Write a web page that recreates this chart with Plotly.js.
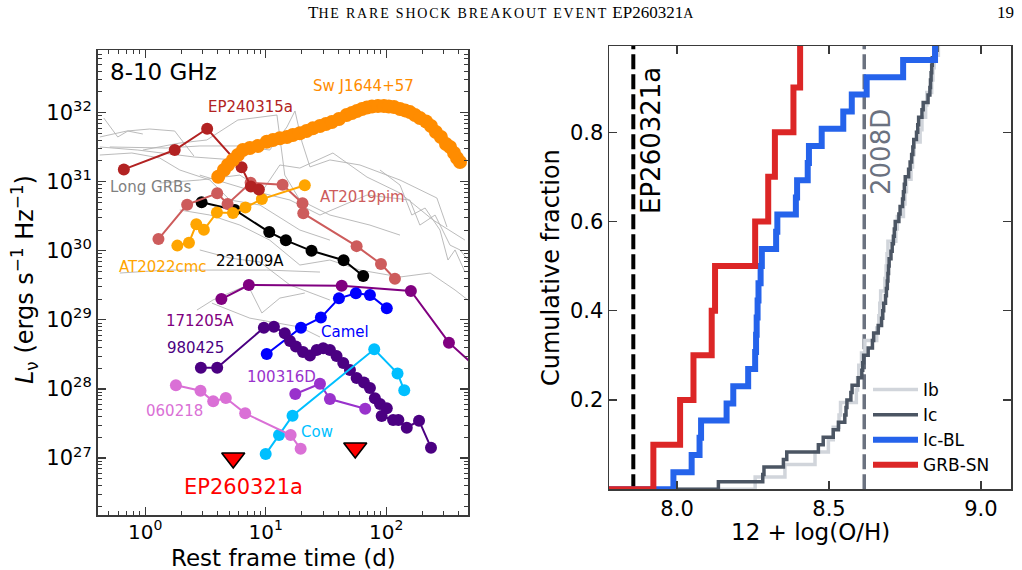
<!DOCTYPE html>
<html>
<head>
<meta charset="utf-8">
<script src="https://cdn.plot.ly/plotly-3.0.1.min.js"></script>
<style>
  html, body { margin: 0; padding: 0; background: #ffffff; }
  #chart { width: 1022px; height: 570px; }
</style>
</head>
<body>
<div id="chart"></div>
<script>
// ---------- Radio light curves at 8-10 GHz (rest-frame days, erg/s/Hz) ----------
const swj1644_t = [4.04, 4.50, 4.86, 5.34, 5.88, 6.47, 7.39, 8.61, 10.2, 11.5, 13.1, 15.0, 16.8, 19.2, 21.8, 24.6, 28.2, 31.6, 35.4, 40.5, 46.9, 51.9, 57.1, 62.9, 69.2, 76.1, 85.3, 95.7, 105, 116, 130, 143, 157, 173, 190, 214, 235, 258, 284, 313, 338, 365, 386, 409];
const swj1644_L = [1.18e31, 1.48e31, 1.75e31, 2.07e31, 2.44e31, 2.88e31, 3.08e31, 3.30e31, 3.80e31, 4.03e31, 4.26e31, 4.45e31, 4.75e31, 5.03e31, 5.43e31, 5.94e31, 6.42e31, 6.86e31, 7.33e31, 8.11e31, 9.26e31, 9.90e31, 1.06e32, 1.13e32, 1.19e32, 1.23e32, 1.25e32, 1.25e32, 1.23e32, 1.21e32, 1.13e32, 1.08e32, 1.02e32, 9.26e31, 8.38e31, 7.46e31, 6.42e31, 5.26e31, 4.45e31, 3.52e31, 3.19e31, 2.61e31, 2.21e31, 1.93e31];

const ep240315a_t = [0.666, 1.76, 3.27, 6.31, 7.54, 8.78];
const ep240315a_L = [1.51e31, 2.88e31, 5.86e31, 1.62e31, 8.53e30, 7.73e30];

const at2019pim_t = [1.29, 2.23, 3.96, 4.83, 7.50, 13.8, 20.2, 20.5, 56.8, 90.4, 118];
const at2019pim_L = [1.48e30, 4.66e30, 6.81e30, 4.77e30, 9.68e30, 9.06e30, 4.88e30, 3.49e30, 1.17e30, 6.44e29, 3.94e29];

const at2022cmc_t = [1.85, 2.31, 2.66, 3.07, 3.94, 5.35, 6.79, 9.30, 21.1];
const at2022cmc_L = [1.19e30, 1.31e30, 2.42e30, 2.02e30, 3.59e30, 3.53e30, 4.24e30, 5.62e30, 8.89e30];

const grb221009a_t = [2.94, 5.55, 10.7, 14.7, 24.0, 44.3, 64.4];
const grb221009a_L = [5.05e30, 3.90e30, 1.87e30, 1.42e30, 1.00e30, 7.30e29, 4.32e29];

const grb171205a_t = [4.29, 7.25, 42.7, 160, 331, 878];
const grb171205a_L = [2.00e29, 3.20e29, 3.13e29, 2.62e29, 4.68e28, 1.00e28];

const camel_t = [10.2, 19.6, 28.7, 40.5, 56.0, 73.2, 101];
const camel_L = [3.21e28, 7.71e28, 1.08e29, 2.05e29, 2.43e29, 2.29e29, 1.47e29];

const grb980425_t = [2.90, 3.96, 9.66, 11.7, 14.4, 15.9, 17.8, 20.4, 23.3, 26.5, 30.0, 34.1, 38.7, 44.0, 50.0, 56.8, 65.3, 73.2, 80.5, 88.7, 101, 91.6, 114, 126, 148, 187, 235];
const grb980425_L = [2.03e28, 2.03e28, 7.71e28, 7.96e28, 6.40e28, 4.95e28, 4.12e28, 3.43e28, 3.05e28, 3.66e28, 3.88e28, 3.66e28, 3.00e28, 2.37e28, 1.88e28, 1.44e28, 1.24e28, 1.03e28, 7.32e27, 6.05e27, 5.25e27, 4.06e27, 3.55e27, 3.55e27, 2.75e27, 3.47e27, 1.41e27];

const grb060218_t = [1.80, 2.88, 3.67, 4.67, 6.76, 16.1, 19.5];
const grb060218_L = [1.13e28, 9.43e27, 6.62e27, 7.39e27, 4.44e27, 2.15e27, 1.36e27];

const grb100316d_t = [17.6, 28.2, 34.1, 66.9];
const grb100316d_L = [8.45e27, 1.19e28, 7.15e27, 5.17e27];

const cow_t = [10.0, 12.9, 16.7, 79.5, 124, 141];
const cow_L = [1.14e27, 2.15e27, 4.10e27, 3.75e28, 1.68e28, 9.55e27];

// EP260321a upper limits
const ep260321a_t = [5.38, 55.3];
const ep260321a_L = [1.00e27, 1.40e27];

// Long GRB sample (thin grey tracks)
const longGrbT = [
  [0.454, 0.593, 0.719, 0.957],
  [0.421, 0.705, 1.09, 1.76, 2.54],
  [0.421, 0.870, 2.58, 5.55],
  [0.421, 0.776, 1.32, 1.94, 3.44, 5.05, 8.95, 19.2, 34.1],
  [0.957, 1.94, 3.25, 5.88, 12.4, 14.4, 19.2, 34.1, 73.2, 130],
  [0.509, 1.48, 2.84, 6.11, 10.8, 15.0, 17.5, 20.0, 23.3, 34.1, 60.5, 130, 263, 319],
  [1.32, 2.84, 6.11, 9.48, 13.1, 19.2, 36.1, 69.2, 130, 244, 450],
  [2.84, 7.39, 15.9, 28.2, 69.2, 157, 190, 254, 338, 409, 476],
  [1.94, 3.44, 6.11, 10.8, 19.2, 34.1, 60.5, 130, 231, 372, 476],
  [0.617, 1.51, 3.25, 10.2, 28.2],
  [2.84, 5.05, 8.95, 15.9, 34.1],
  [2.69, 3.65, 7.11, 9.30, 13.1, 21.1],
  [3.58, 7.39, 19.2, 28.2],
  [88.7, 130, 163, 210, 279, 325, 372, 450]
];
const longGrbL = [
  [8.38e31, 4.45e31, 5.43e31, 4.92e31],
  [4.45e31, 5.43e31, 5.81e31, 5.43e31, 2.36e31],
  [3.19e31, 2.88e31, 2.28e31, 2.07e31],
  [2.44e31, 2.61e31, 2.21e31, 1.48e31, 1.06e31, 5.44e30, 4.61e30, 2.00e30, 1.43e30],
  [2.88e31, 3.64e31, 4.03e31, 7.84e31, 9.26e31, 1.25e31, 5.44e30, 3.30e30, 2.36e30, 1.69e30],
  [3.19e31, 3.08e31, 3.30e31, 3.30e31, 2.88e31, 6.21e31, 1.06e32, 3.77e31, 1.64e31, 2.07e31, 1.75e31, 1.06e31, 5.82e30, 2.21e30],
  [9.59e30, 1.06e31, 1.25e31, 7.57e30, 1.75e31, 1.58e31, 2.61e31, 1.17e31, 6.87e30, 2.80e30, 1.43e30],
  [1.25e31, 7.57e30, 5.44e30, 3.30e30, 6.42e30, 5.44e30, 2.36e30, 3.30e30, 1.21e30, 1.03e30, 7.36e29],
  [3.90e30, 3.30e30, 2.36e30, 1.43e30, 6.23e29, 7.36e29, 5.27e29, 4.18e29, 4.77e29, 2.71e29, 1.94e29],
  [4.77e29, 5.27e29, 5.27e29, 5.27e29, 4.93e29],
  [1.03e30, 7.87e29, 6.88e29, 3.20e29, 1.94e29],
  [1.39e29, 1.94e29, 3.20e29, 1.26e29, 2.07e29, 2.45e29],
  [1.75e29, 1.06e29, 7.88e28, 5.65e28],
  [1.48e31, 8.97e30, 3.30e30, 4.17e30, 2.00e30, 7.36e29, 1.03e30, 4.93e29]
];

// ---------- Host metallicities, 12 + log(O/H) ----------
const ohIb = [8.257, 8.355, 8.454, 8.498, 8.514, 8.533, 8.538, 8.590, 8.594, 8.598, 8.607, 8.618, 8.657, 8.664, 8.667, 8.670, 8.684, 8.688, 8.691, 8.694, 8.720, 8.725, 8.745, 8.750, 8.755, 8.770, 8.775, 8.780, 8.800, 8.806, 8.818, 8.822, 8.838, 8.842, 8.846, 8.860];
const ohIc = [8.136, 8.282, 8.286, 8.350, 8.361, 8.465, 8.481, 8.514, 8.531, 8.552, 8.556, 8.559, 8.572, 8.576, 8.596, 8.608, 8.611, 8.614, 8.629, 8.643, 8.647, 8.662, 8.673, 8.677, 8.680, 8.686, 8.689, 8.692, 8.694, 8.696, 8.698, 8.704, 8.708, 8.712, 8.715, 8.718, 8.730, 8.734, 8.742, 8.745, 8.748, 8.751, 8.762, 8.767, 8.772, 8.776, 8.779, 8.788, 8.792, 8.795, 8.806, 8.810, 8.826, 8.832, 8.834, 8.836, 8.838, 8.840, 8.850, 8.856];
const ohIcBL = [7.988, 8.048, 8.074, 8.079, 8.163, 8.185, 8.234, 8.257, 8.260, 8.262, 8.265, 8.268, 8.275, 8.279, 8.326, 8.330, 8.391, 8.395, 8.430, 8.434, 8.476, 8.547, 8.575, 8.624, 8.744, 8.849];
const ohGRBSN = [7.922, 8.010, 8.054, 8.114, 8.125, 8.257, 8.300, 8.322, 8.383, 8.405];
const ohEP260321a = 7.856;
const oh2008D = 8.616;

// ---------- helpers ----------
const W = 1022, H = 570;
const px = v => v / W;          // pixel -> paper x
const py = v => 1 - v / H;      // pixel -> paper y
const FONT = 'DejaVu Sans, Verdana, sans-serif';
const AXC = '#3a3a3a';

function ecdf(vals) {
  const s = vals.slice().sort((a, b) => a - b);
  const n = s.length;
  const x = [7.5], y = [0];
  s.forEach((v, i) => { x.push(v); y.push((i + 1) / n); });
  x.push(9.4); y.push(1);
  return { x, y };
}

function logMinor(lo, hi) {
  const out = [];
  for (let e = lo; e <= hi; e++) {
    for (let m = 2; m <= 9; m++) out.push(m * Math.pow(10, e));
  }
  return out;
}

const traces = [];

// thin grey long-GRB tracks
longGrbT.forEach((t, i) => {
  traces.push({
    x: t, y: longGrbL[i], xaxis: 'x', yaxis: 'y', type: 'scatter', mode: 'lines',
    line: { color: '#b3b3b3', width: 0.9 }, showlegend: false, hoverinfo: 'skip'
  });
});

function lc(t, L, color, size) {
  traces.push({
    x: t, y: L, xaxis: 'x', yaxis: 'y', type: 'scatter', mode: 'lines+markers',
    line: { color: color, width: 2 },
    marker: { color: color, size: size || 12, line: { width: 0 } },
    showlegend: false
  });
}

lc(grb171205a_t, grb171205a_L, '#800080');
lc(camel_t, camel_L, '#0000ff');
lc(grb980425_t, grb980425_L, '#4b0082');
lc(grb100316d_t, grb100316d_L, '#9932cc');
lc(cow_t, cow_L, '#00bfff');
lc(grb060218_t, grb060218_L, '#da70d6');
lc(grb221009a_t, grb221009a_L, '#000000');
lc(at2019pim_t, at2019pim_L, '#cd5c5c');
lc(at2022cmc_t, at2022cmc_L, '#ffa500');
lc(ep240315a_t, ep240315a_L, '#b22222');
lc(swj1644_t, swj1644_L, '#ff8c00', 14);

traces.push({
  x: ep260321a_t, y: ep260321a_L, xaxis: 'x', yaxis: 'y', type: 'scatter', mode: 'markers',
  marker: { symbol: 'triangle-down', size: 20, color: '#ff0000', line: { color: '#000000', width: 1.6 } },
  showlegend: false
});

// metallicity panel: reference lines
traces.push({
  x: [ohEP260321a, ohEP260321a], y: [0, 1.2], xaxis: 'x2', yaxis: 'y2', type: 'scatter', mode: 'lines',
  line: { color: '#000000', width: 4, dash: '15px,5px' }, showlegend: false, hoverinfo: 'skip'
});
traces.push({
  x: [oh2008D, oh2008D], y: [0, 1.2], xaxis: 'x2', yaxis: 'y2', type: 'scatter', mode: 'lines',
  line: { color: '#6b7280', width: 3.5, dash: '15px,5px' }, showlegend: false, hoverinfo: 'skip'
});

function cdfTrace(vals, name, color, width) {
  const c = ecdf(vals);
  traces.push({
    x: c.x, y: c.y, xaxis: 'x2', yaxis: 'y2', type: 'scatter', mode: 'lines', name: name,
    line: { color: color, width: width, shape: 'hv' }
  });
}
cdfTrace(ohIb, 'Ib', '#d1d5db', 3.5);
cdfTrace(ohIc, 'Ic', '#4b5563', 3.5);
cdfTrace(ohIcBL, 'Ic-BL', '#2563eb', 6);
cdfTrace(ohGRBSN, 'GRB-SN', '#dc2626', 6);

const tickFont = { family: FONT, size: 21, color: '#000000' };

const baseAxis = {
  showgrid: false, zeroline: false, showline: true, linecolor: AXC, linewidth: 1.5,
  ticks: 'inside', ticklen: 8, tickwidth: 1.2, tickcolor: AXC, mirror: 'allticks',
  tickfont: tickFont, tickmode: 'array'
};

const layout = {
  width: W, height: H,
  margin: { l: 0, r: 0, t: 0, b: 0 },
  paper_bgcolor: '#ffffff', plot_bgcolor: '#ffffff',
  showlegend: true,
  legend: {
    x: px(868), y: py(372), xanchor: 'left', yanchor: 'top', itemwidth: 45,
    font: { family: FONT, size: 17, color: '#000000' },
    bgcolor: 'rgba(255,255,255,0)', borderwidth: 0, tracegroupgap: 0
  },
  xaxis: Object.assign({}, baseAxis, {
    type: 'log', domain: [px(97.5), px(468)], range: [-0.395, 2.678], anchor: 'y',
    tickfont: { family: FONT, size: 20, color: '#000000' }, ticklabelstandoff: -2,
    tickvals: [1, 10, 100], ticktext: ['10<sup>0</sup>', '10<sup>1</sup>', '10<sup>2</sup>'],
    minor: { tickmode: 'array', tickvals: logMinor(-1, 2), ticks: 'inside', ticklen: 4, tickwidth: 1, tickcolor: AXC, showgrid: false }
  }),
  yaxis: Object.assign({}, baseAxis, {
    type: 'log', domain: [1 - 515 / H, 1 - 50 / H], range: [26.175, 32.908], anchor: 'x',
    tickvals: [1e27, 1e28, 1e29, 1e30, 1e31, 1e32],
    ticktext: ['10<sup>27</sup>', '10<sup>28</sup>', '10<sup>29</sup>', '10<sup>30</sup>', '10<sup>31</sup>', '10<sup>32</sup>'],
    minor: { tickmode: 'array', tickvals: logMinor(26, 32), ticks: 'inside', ticklen: 4, tickwidth: 1, tickcolor: AXC, showgrid: false }
  }),
  xaxis2: Object.assign({}, baseAxis, {
    domain: [px(609), px(1011)], range: [7.776, 9.099], anchor: 'y2',
    tickvals: [8.0, 8.5, 9.0], ticktext: ['8.0', '8.5', '9.0'], mirror: 'ticks'
  }),
  yaxis2: Object.assign({}, baseAxis, {
    domain: [1 - 489.3 / H, 1 - 46 / H], range: [0, 0.993], anchor: 'x2',
    tickvals: [0.2, 0.4, 0.6, 0.8], ticktext: ['0.2', '0.4', '0.6', '0.8'], mirror: 'ticks'
  }),
  annotations: []
};

function note(text, x, y, color, size, extra) {
  layout.annotations.push(Object.assign({
    text: text, xref: 'paper', yref: 'paper', x: px(x), y: py(y),
    xanchor: 'center', yanchor: 'middle', showarrow: false,
    font: { family: FONT, size: size, color: color }
  }, extra || {}));
}

// page header (small capitals)
const SERIF = { family: 'Liberation Serif, serif', size: 17, color: '#000000' };
note('T<span style="font-size:14px;letter-spacing:1.8px">HE RARE SHOCK BREAKOUT EVENT</span> EP260321<span style="font-size:14px">A</span>',
  501, 13, '#000000', 17, { font: SERIF });
note('19', 1005, 13, '#000000', 17, { font: SERIF });

// left panel labels
note('8-10 GHz', 163, 72, '#000000', 23);
note('Sw J1644+57', 363, 86, '#ff8c00', 15);
note('EP240315a', 250, 107, '#b22222', 15);
note('Long GRBs', 150, 187, '#808080', 15);
note('AT2019pim', 362, 197, '#cd5c5c', 15);
note('AT2022cmc', 163, 267, '#ffa500', 15);
note('221009A', 250, 261, '#000000', 15);
note('171205A', 200, 321, '#800080', 15);
note('980425', 195, 348, '#4b0082', 15);
note('Camel', 345, 332, '#0000ff', 15);
note('100316D', 281, 377, '#9932cc', 15);
note('060218', 174, 411, '#da70d6', 15);
note('Cow', 317, 432, '#00bfff', 15);
note('EP260321a', 243, 487, '#ff0000', 21);

// axis titles
note('<i>L</i><sub>ν</sub> (ergs s<sup>−1</sup> Hz<sup>−1</sup>)', 24, 280, '#000000', 24, { textangle: -90 });
note('Rest frame time (d)', 283, 557.5, '#000000', 23);
note('Cumulative fraction', 551, 268, '#000000', 24, { textangle: -90 });
note('12 + log(O/H)', 810, 532, '#000000', 23);

// right panel labels
note('EP260321a', 651, 141, '#000000', 26, { textangle: -90 });
note('2008D', 881, 152, '#6b7280', 26, { textangle: -90 });

Plotly.newPlot('chart', traces, layout, { staticPlot: true, displayModeBar: false });
</script>
</body>
</html>
